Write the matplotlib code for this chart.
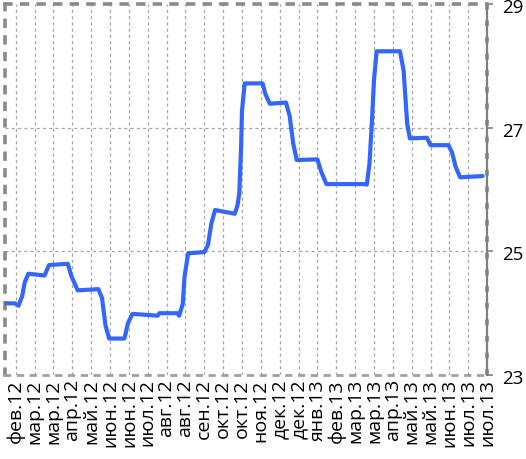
import matplotlib
matplotlib.use("Agg")
import matplotlib.pyplot as plt
import matplotlib.transforms as mtransforms
import numpy as np
import pandas as pd

plt.rcParams['font.family'] = ['Open Sans', 'DejaVu Sans']

# Rate series: corner points of the daily curve
dates = [
    "2012-02-05", "2012-02-16", "2012-02-20", "2012-02-24", "2012-02-27",
    "2012-03-02", "2012-03-20", "2012-03-25", "2012-04-15", "2012-04-19",
    "2012-04-26", "2012-05-19", "2012-05-23", "2012-05-27", "2012-05-31",
    "2012-06-17", "2012-06-21", "2012-06-26", "2012-07-24", "2012-07-26",
    "2012-08-15", "2012-08-17", "2012-08-21", "2012-08-23", "2012-08-27",
    "2012-09-14", "2012-09-18", "2012-09-22", "2012-09-26", "2012-10-18",
    "2012-10-21", "2012-10-23", "2012-10-25", "2012-10-26", "2012-10-29",
    "2012-11-18", "2012-11-21", "2012-11-26", "2012-12-14", "2012-12-18",
    "2012-12-22", "2012-12-26", "2013-01-18", "2013-01-22", "2013-01-28",
    "2013-03-12", "2013-03-14", "2013-03-17", "2013-03-20", "2013-03-22",
    "2013-03-25", "2013-04-20", "2013-04-24", "2013-04-26", "2013-04-28",
    "2013-05-01", "2013-05-20", "2013-05-24", "2013-06-13", "2013-06-17",
    "2013-06-21", "2013-06-26", "2013-07-21",
]
values = [
    24.16, 24.16, 24.12, 24.27, 24.50,
    24.64, 24.61, 24.78, 24.80, 24.60,
    24.37, 24.39, 24.25, 23.80, 23.59,
    23.59, 23.84, 23.99, 23.96, 24.00,
    24.00, 23.96, 24.15, 24.59, 24.97,
    24.99, 25.10, 25.46, 25.67, 25.61,
    25.75, 25.94, 26.69, 27.28, 27.72,
    27.72, 27.55, 27.39, 27.41, 27.20,
    26.75, 26.48, 26.49, 26.30, 26.09,
    26.09, 26.08, 26.42, 27.18, 27.77,
    28.24, 28.24, 27.93, 27.50, 27.07,
    26.83, 26.84, 26.72, 26.72, 26.60,
    26.37, 26.20, 26.22,
]

tick_labels = [
    "фев.12", "мар.12", "мар.12", "апр.12", "май.12", "июн.12", "июн.12",
    "июл.12", "авг.12", "авг.12", "сен.12", "окт.12", "окт.12", "ноя.12",
    "дек.12", "дек.12", "янв.13", "фев.13", "мар.13", "мар.13", "апр.13",
    "май.13", "май.13", "июн.13", "июл.13", "июл.13",
]
first_tick = "2012-02-17"
tick_step_days = 21
y_ticks = [23, 25, 27, 29]

x = pd.to_datetime(dates)
tick_pos = pd.Timestamp(first_tick) + pd.to_timedelta(np.arange(len(tick_labels)) * tick_step_days, unit="D")

fig = plt.figure(figsize=(5.26, 4.59), dpi=100)
ax = fig.add_axes([0.0095, 0.183, 0.9165, 0.8076])

grid_kw = dict(color="#a6a6a6", lw=0.9, dashes=(2.5, 2.5), zorder=1)
for t in tick_pos[:-1]:
    ax.axvline(t, **grid_kw)
for yv in y_ticks[1:-1]:
    ax.axhline(yv, **grid_kw)

ax.plot(x, values, color="#3366ff", lw=3.0, solid_joinstyle="round",
        solid_capstyle="round", zorder=3)

ax.set_xlim(pd.Timestamp("2012-02-05"), tick_pos[-1])
ax.set_ylim(23, 29)

ax.set_xticks(tick_pos)
ax.set_xticklabels(tick_labels, rotation=90, fontsize=14)
ax.tick_params(axis="x", length=0, pad=3)

ax.yaxis.tick_right()
ax.set_yticks(y_ticks)
ax.tick_params(axis="y", which="major", direction="out", length=4, width=1.2,
               color="#808080", labelsize=13.5, pad=7)
shift_down = mtransforms.ScaledTranslation(0, -2 / 100, fig.dpi_scale_trans)
for lab in ax.get_yticklabels():
    lab.set_transform(lab.get_transform() + shift_down)

for side in ("left", "top", "bottom"):
    sp = ax.spines[side]
    sp.set_color("#8a8a8a")
    sp.set_linewidth(2.6)
    sp.set_linestyle((0, (1.6, 3.0)))
ax.spines["bottom"].set_color("#a0a0a0")
ax.spines["bottom"].set_linewidth(2.0)
ax.spines["right"].set_color("#808080")
ax.spines["right"].set_linewidth(1.6)
ax.axvline(tick_pos[-1], color="#8a8a8a", lw=2.6, dashes=(1.6, 3.0),
           clip_on=False, zorder=0)

fig.savefig("out.png", dpi=100)
